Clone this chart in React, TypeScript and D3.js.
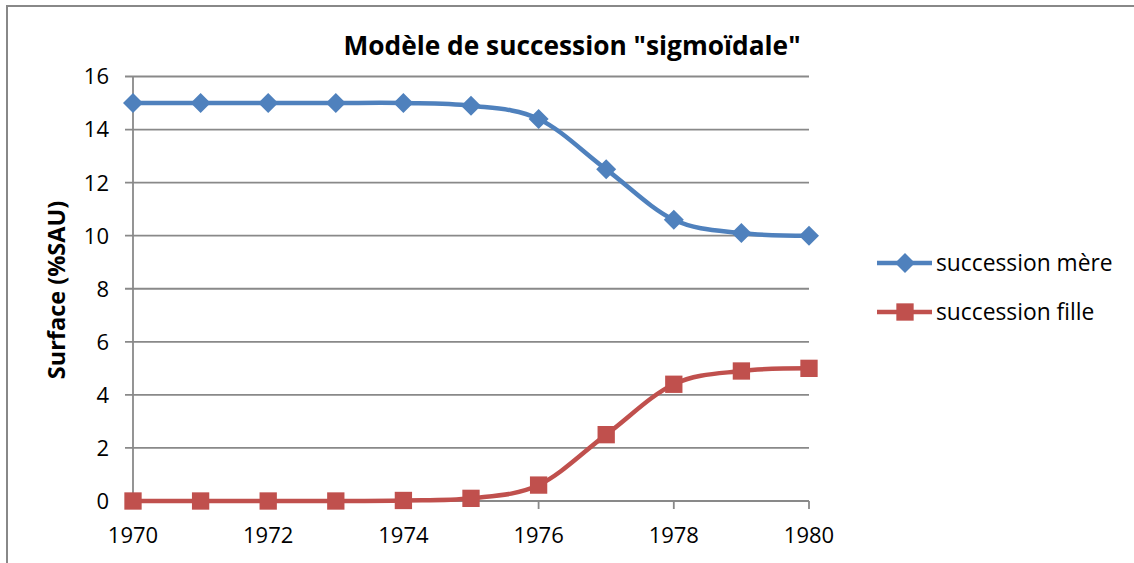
import React, { useEffect, useRef } from "react";
import * as d3 from "d3";

const years = [1970, 1971, 1972, 1973, 1974, 1975, 1976, 1977, 1978, 1979, 1980];
const mere = [15, 15, 15, 15, 15, 14.9, 14.4, 12.5, 10.6, 10.1, 10.0];
const fille = [0, 0, 0, 0, 0.02, 0.1, 0.6, 2.5, 4.4, 4.9, 5.0];
const yTicks = [0, 2, 4, 6, 8, 10, 12, 14, 16];
const xTicks = [1970, 1972, 1974, 1976, 1978, 1980];

const series = [
  { name: "succession mère", values: mere, color: "#4F81BD", marker: "diamond" },
  { name: "succession fille", values: fille, color: "#C0504D", marker: "square" },
];

const font = "'Open Sans', sans-serif";

const App: React.FC = () => {
  const ref = useRef<SVGSVGElement | null>(null);

  useEffect(() => {
    const svg = d3.select(ref.current);
    svg.selectAll("*").remove();

    const width = 1134;
    const height = 563;
    const margin = { top: 76.5, right: 325, bottom: 62, left: 133 };

    const x = d3
      .scaleLinear()
      .domain([1970, 1980])
      .range([margin.left, width - margin.right]);
    const y = d3
      .scaleLinear()
      .domain([0, 16])
      .range([height - margin.bottom, margin.top]);

    // chart frame (only top and left edges visible)
    svg
      .append("rect")
      .attr("x", 7)
      .attr("y", 6)
      .attr("width", 1200)
      .attr("height", 600)
      .attr("fill", "none")
      .attr("stroke", "#888888")
      .attr("stroke-width", 2);

    // gridlines
    svg
      .append("g")
      .selectAll("line")
      .data(yTicks)
      .enter()
      .append("line")
      .attr("x1", margin.left - 8)
      .attr("x2", x(1980))
      .attr("y1", (d) => y(d))
      .attr("y2", (d) => y(d))
      .attr("stroke", "#898989")
      .attr("stroke-width", 1.8);

    // y axis line
    svg
      .append("line")
      .attr("x1", x(1970))
      .attr("x2", x(1970))
      .attr("y1", y(16))
      .attr("y2", y(0) + 8)
      .attr("stroke", "#898989")
      .attr("stroke-width", 1.8);

    // x ticks
    svg
      .append("g")
      .selectAll("line")
      .data(xTicks.slice(1))
      .enter()
      .append("line")
      .attr("x1", (d) => x(d))
      .attr("x2", (d) => x(d))
      .attr("y1", y(0))
      .attr("y2", y(0) + 8)
      .attr("stroke", "#898989")
      .attr("stroke-width", 1.8);

    // y tick labels
    svg
      .append("g")
      .selectAll("text")
      .data(yTicks)
      .enter()
      .append("text")
      .attr("x", 109)
      .attr("y", (d) => y(d))
      .attr("dy", "0.36em")
      .attr("text-anchor", "end")
      .attr("font-family", font)
      .attr("font-size", 22)
      .attr("fill", "#000")
      .text((d) => d);

    // x tick labels
    svg
      .append("g")
      .selectAll("text")
      .data(xTicks)
      .enter()
      .append("text")
      .attr("x", (d) => x(d))
      .attr("y", 543)
      .attr("text-anchor", "middle")
      .attr("font-family", font)
      .attr("font-size", 22)
      .attr("fill", "#000")
      .text((d) => d);

    // title
    svg
      .append("text")
      .attr("x", 572)
      .attr("y", 55)
      .attr("text-anchor", "middle")
      .attr("font-family", font)
      .attr("font-weight", "bold")
      .attr("font-size", 26.3)
      .attr("fill", "#000")
      .text('Modèle de succession "sigmoïdale"');

    // y axis title
    svg
      .append("text")
      .attr("transform", "translate(65,290) rotate(-90)")
      .attr("text-anchor", "middle")
      .attr("font-family", font)
      .attr("font-weight", "bold")
      .attr("font-size", 23.5)
      .attr("fill", "#000")
      .text("Surface (%SAU)");

    const line = d3
      .line<number>()
      .x((_, i) => x(years[i]))
      .y((d) => y(d))
      .curve(d3.curveCardinal.tension(0));

    const diamond = d3.symbol().type(d3.symbolSquare).size(200);
    const square = d3.symbol().type(d3.symbolSquare).size(300);

    const markerPath = (m: string) => (m === "diamond" ? diamond() : square()) || "";
    const markerRot = (m: string) => (m === "diamond" ? " rotate(45)" : "");

    series.forEach((s) => {
      svg
        .append("path")
        .datum(s.values)
        .attr("fill", "none")
        .attr("stroke", s.color)
        .attr("stroke-width", 4.5)
        .attr("d", line);

      svg
        .append("g")
        .selectAll("path")
        .data(s.values)
        .enter()
        .append("path")
        .attr("d", markerPath(s.marker))
        .attr("transform", (d, i) => `translate(${x(years[i])},${y(d)})${markerRot(s.marker)}`)
        .attr("fill", s.color);
    });

    // legend
    const legend = svg
      .append("g")
      .selectAll("g")
      .data(series)
      .enter()
      .append("g")
      .attr("transform", (_, i) => `translate(877,${263 + i * 49})`);

    legend
      .append("line")
      .attr("x1", 0)
      .attr("x2", 55)
      .attr("stroke", (d) => d.color)
      .attr("stroke-width", 4.5);

    legend
      .append("path")
      .attr("d", (d) => markerPath(d.marker))
      .attr("transform", (d) => `translate(28,0)${markerRot(d.marker)}`)
      .attr("fill", (d) => d.color);

    legend
      .append("text")
      .attr("x", 59)
      .attr("dy", "0.36em")
      .attr("font-family", font)
      .attr("font-size", 22.8)
      .attr("fill", "#000")
      .text((d) => d.name);
  }, []);

  return (
    <svg
      ref={ref}
      width={1134}
      height={563}
      style={{ position: "absolute", left: 0, top: 0, background: "#fff" }}
    />
  );
};

export default App;
